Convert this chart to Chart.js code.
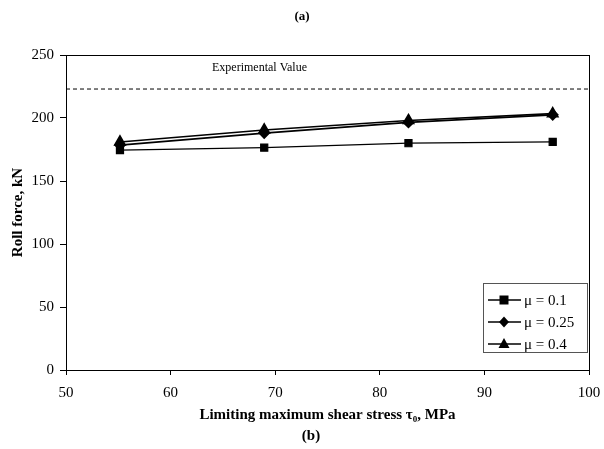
<!DOCTYPE html>
<html>
<head>
<meta charset="utf-8">
<script src="https://cdn.jsdelivr.net/npm/chart.js@4/dist/chart.umd.min.js"></script>
<style>
  html, body { margin: 0; padding: 0; background: #fff; }
  #wrap { width: 604px; height: 449px; }
</style>
</head>
<body>
<div id="wrap"><canvas id="c" width="604" height="449"></canvas></div>
<script>
// limiting shear stress, MPa
const tau = [55.16, 68.95, 82.74, 96.53];
// roll force, kN
const mu01 = [174.5, 176.5, 180, 181];
const mu025 = [178.5, 188, 196.5, 202.5];
const mu04 = [181, 190.5, 198, 203.5];
const experimental = 223;
const xRange = [50, 100];
const yRange = [0, 250];
const seriesLabels = ['\u03bc = 0.1', '\u03bc = 0.25', '\u03bc = 0.4'];
const seriesMarkers = ['rect', 'rectRot', 'triangle'];

const serif = '"Liberation Serif", "Times New Roman", serif';
Chart.defaults.font.family = serif;
Chart.defaults.color = '#000';

const pts = arr => arr.map((v, i) => ({ x: tau[i], y: v }));

function marker(ctx, style, x, y) {
  ctx.beginPath();
  if (style === 'rect') {
    ctx.rect(x - 4.5, y - 4.5, 9, 9);
  } else if (style === 'rectRot') {
    ctx.moveTo(x, y - 5.5); ctx.lineTo(x + 5, y); ctx.lineTo(x, y + 5.5); ctx.lineTo(x - 5, y);
    ctx.closePath();
  } else {
    ctx.moveTo(x, y - 6); ctx.lineTo(x + 5.5, y + 4); ctx.lineTo(x - 5.5, y + 4);
    ctx.closePath();
  }
  ctx.fill();
}

const extras = {
  id: 'extras',
  afterDraw(chart) {
    const { ctx, chartArea: a, scales: { x, y } } = chart;
    ctx.save();
    // frame
    ctx.strokeStyle = '#000';
    ctx.lineWidth = 1;
    ctx.strokeRect(a.left + 0.5, a.top + 0.5, a.right - a.left, a.bottom - a.top);

    // experimental label
    ctx.fillStyle = '#000';
    ctx.font = '12px ' + serif;
    ctx.textAlign = 'center';
    ctx.textBaseline = 'middle';
    ctx.fillText('Experimental Value', x.getPixelForValue(68.5), y.getPixelForValue(240));

    // panel labels
    ctx.font = 'bold 13px ' + serif;
    ctx.fillText('(a)', 302, 17);
    ctx.font = 'bold 15px ' + serif;
    ctx.fillText('(b)', 311, 436);

    // legend
    const bw = 104, bh = 69;
    const bx = a.right - 2 - bw, by = a.bottom - 18 - bh;
    ctx.strokeStyle = '#555';
    ctx.strokeRect(bx + 0.5, by + 0.5, bw, bh);
    ctx.font = '15px ' + serif;
    ctx.textAlign = 'left';
    seriesLabels.forEach((lab, i) => {
      const ly = by + 17 + i * 22;
      ctx.strokeStyle = '#000';
      ctx.lineWidth = 1.5;
      ctx.beginPath();
      ctx.moveTo(bx + 5, ly); ctx.lineTo(bx + 38, ly);
      ctx.stroke();
      marker(ctx, seriesMarkers[i], bx + 21, ly);
      ctx.fillText(lab, bx + 41, ly + 1);
    });
    ctx.restore();
  }
};

new Chart(document.getElementById('c'), {
  type: 'line',
  data: {
    datasets: [
      { label: seriesLabels[0], data: pts(mu01), borderColor: '#000', backgroundColor: '#000',
        borderWidth: 1.2, pointStyle: 'rect', pointRadius: 5 },
      { label: seriesLabels[1], data: pts(mu025), borderColor: '#000', backgroundColor: '#000',
        borderWidth: 1.6, pointStyle: 'rectRot', pointRadius: 5 },
      { label: seriesLabels[2], data: pts(mu04), borderColor: '#000', backgroundColor: '#000',
        borderWidth: 1.6, pointStyle: 'triangle', pointRadius: 6 },
      { label: 'Experimental Value', data: [{ x: xRange[0], y: experimental }, { x: xRange[1], y: experimental }],
        borderColor: '#000', borderWidth: 1, borderDash: [4, 3], pointRadius: 0 }
    ]
  },
  options: {
    responsive: false,
    animation: false,
    layout: { padding: { top: 55, right: 15, left: 0, bottom: 0 } },
    plugins: { legend: { display: false }, tooltip: { enabled: false } },
    scales: {
      x: {
        type: 'linear',
        min: xRange[0], max: xRange[1],
        ticks: { stepSize: 10, padding: 9, font: { size: 15 } },
        grid: { drawOnChartArea: false, tickLength: 5, color: '#000' },
        border: { color: '#000' },
        title: { display: true, text: 'Limiting maximum shear stress \u03c4\u2080, MPa',
          font: { size: 15, weight: 'bold' }, padding: { top: 0, bottom: 25 } },
        afterFit(s) { s.height = 79; s.paddingRight = 0; s.paddingLeft = 0; }
      },
      y: {
        min: yRange[0], max: yRange[1],
        ticks: { stepSize: 50, padding: 6, font: { size: 15 } },
        grid: { drawOnChartArea: false, tickLength: 6, color: '#000' },
        border: { color: '#000' },
        title: { display: true, text: 'Roll force, kN',
          font: { size: 15, weight: 'bold' }, padding: { top: 9, bottom: 0 } },
        afterFit(s) { s.width = 66; }
      }
    }
  },
  plugins: [extras]
});
</script>
</body>
</html>
